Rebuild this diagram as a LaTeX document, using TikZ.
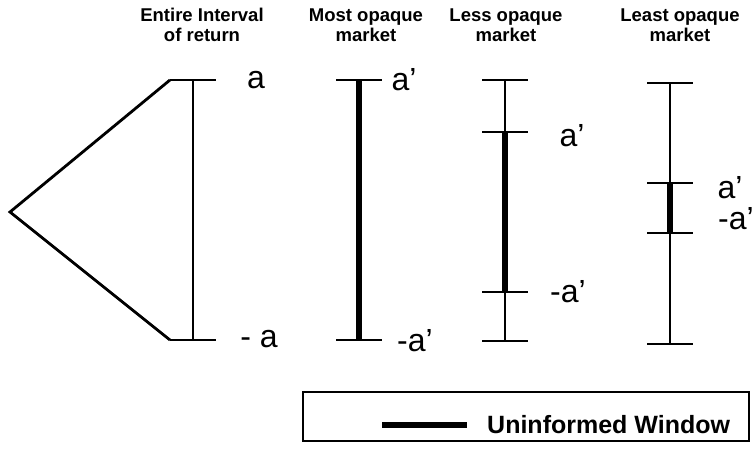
\documentclass[tikz,border=0pt]{standalone}
\usepackage{fontspec}
\setmainfont{Liberation Sans}

\begin{document}
\begin{tikzpicture}[x=1pt,y=-1pt,
  bar/.style={line width=2.8pt},
  window/.style={line width=6pt},
  head/.style={font=\bfseries\fontsize{18.5}{19.5}\selectfont,align=center},
  lab/.style={font=\fontsize{32}{32}\selectfont,inner sep=0pt}]
  \useasboundingbox (0,0) rectangle (756,452);

  % headings
  \node[head] (h1) at (202,25) {Entire Interval\\of return};
  \node[head] (h2) at (366,25) {Most opaque\\market};
  \node[head] (h3) at (506,25) {Less opaque\\market};
  \node[head] (h4) at (680,25) {Least opaque\\market};

  % outer ticks and bars
  \foreach \c/\x/\yt/\yb in {1/193/80/340, 2/359/80/340, 3/505/80/341, 4/670/83/344} {
    \coordinate (t\c) at (\x,\yt);
    \coordinate (b\c) at (\x,\yb);
    \draw[bar] ([xshift=-23]t\c) -- ([xshift=23]t\c);
    \draw[bar] ([xshift=-23]b\c) -- ([xshift=23]b\c);
    \draw[bar] (t\c) -- (b\c);
  }

  % entire interval
  \coordinate (apex) at (10,212);
  \draw[bar] ([xshift=-23]t1) -- (apex) -- ([xshift=-23]b1);

  % windows
  \draw[window] (t2) -- (b2);
  \coordinate (u3) at (505,132);
  \coordinate (l3) at (505,292);
  \coordinate (u4) at (670,183);
  \coordinate (l4) at (670,233);
  \foreach \c in {3,4} {
    \draw[bar] ([xshift=-23]u\c) -- ([xshift=23]u\c);
    \draw[bar] ([xshift=-23]l\c) -- ([xshift=23]l\c);
    \draw[window] (u\c) -- (l\c);
  }

  % labels
  \node[lab] (a1) at (256,80) {a};
  \node[lab] (m1) at (259,339) {- a};
  \node[lab] (a2) at (404,80) {a'};
  \node[lab] (m2) at (415,341) {-a'};
  \node[lab] (a3) at (572,136) {a'};
  \node[lab] (m3) at (568,292) {-a'};
  \node[lab] (a4) at (730,188) {a'};
  \node[lab,anchor=west] (m4) at (718,219) {-a'};

  % legend
  \node[draw,line width=1.2pt,minimum width=446,minimum height=49,inner sep=0pt] (legend) at (526,416.5) {};
  \coordinate (w1) at (382,425);
  \coordinate (w2) at (467,425);
  \draw[window] (w1) -- (w2);
  \node[font=\bfseries\fontsize{25}{28}\selectfont,anchor=west,inner sep=0pt] (wtext) at (487,425) {Uninformed Window};
\end{tikzpicture}
\end{document}
